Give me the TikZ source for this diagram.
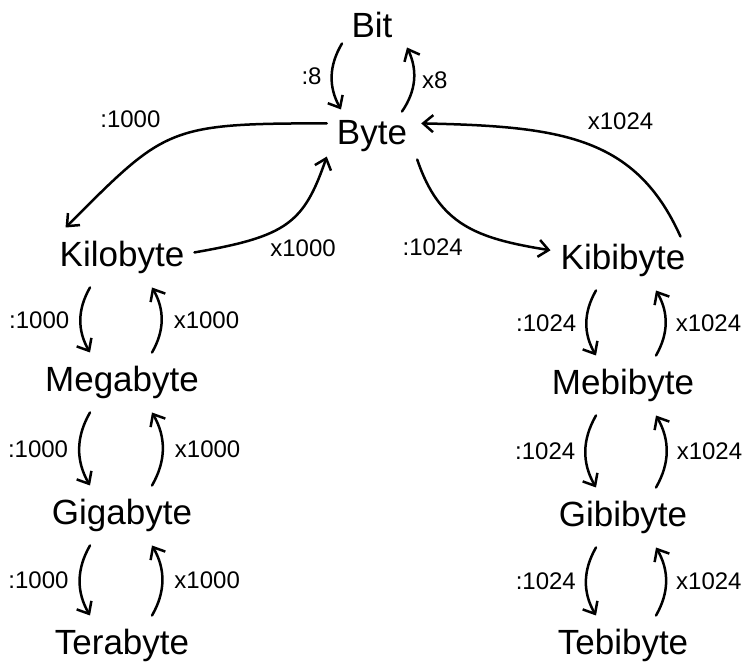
\documentclass[tikz,border=0pt]{standalone}
\usepackage{fontspec}
\setmainfont{Liberation Sans}
\usetikzlibrary{arrows.meta,positioning}

\begin{document}
\begin{tikzpicture}[x=1pt, y=1pt, on grid,
  word/.style={inner xsep=10pt, inner ysep=13pt, text height=26.25pt,
    text depth=7.35pt, font=\fontsize{35}{40}\selectfont},
  lbl/.style={inner sep=2pt, font=\fontsize{24}{28}\selectfont},
  conv/.style={-{Straight Barb[length=10pt,width=17pt]}, line width=2.5pt,
    line cap=round}]
\useasboundingbox (0,0) rectangle (748,666);
\node[word] (bit) at (372,637.5) {Bit};
\node[word, below=107pt of bit] (byte) {Byte};
\node[word, below left=122pt and 250pt of byte] (kb) {Kilobyte};
\node[word, below=125pt of kb] (mb) {Megabyte};
\node[word, below=133pt of mb] (gb) {Gigabyte};
\node[word, below=130pt of gb] (tb) {Terabyte};
\node[word, below right=125pt and 251pt of byte] (kib) {Kibibyte};
\node[word, below=125pt of kib] (mib) {Mebibyte};
\node[word, below=132pt of mib] (gib) {Gibibyte};
\node[word, below=128pt of gib] (tib) {Tebibyte};
% bit <-> byte
\draw[conv] ([xshift=-30pt,yshift=15pt]bit.south) to[bend right=30]
  node[lbl, left=7pt] {:8} ([xshift=-31pt,yshift=-4pt]byte.north);
\draw[conv] ([xshift=30pt,yshift=-6pt]byte.north) to[bend right=30]
  node[lbl, right=5pt] {x8} ([xshift=35pt,yshift=11pt]bit.south);
% byte <-> kilobyte, kibibyte
\draw[conv] (byte.165) .. controls +(-160,0) and +(100,100) .. (kb.152)
  node[lbl, pos=0.5, above left=7pt and 10pt] {:1000};
\draw[conv] (kb.4) .. controls +(92,16) and +(-23,-67) .. (byte.205)
  node[lbl, pos=0.35, below right=2pt and 0pt] {x1000};
\draw[conv] (byte.332) .. controls +(22,-65) and +(-75,12) .. (kib.172)
  node[lbl, pos=0.5, below left=11pt and -2pt] {:1024};
\draw[conv] ([xshift=-15pt,yshift=-6pt]kib.north east)
  .. controls +(-45,100) and +(140,-3) .. ([xshift=4pt]byte.15)
  node[lbl, pos=0.45, above right=16pt and -14pt] {x1024};
% decimal and binary steps
\foreach \a/\b in {kb/mb, mb/gb, gb/tb} {
  \draw[conv] ([xshift=-32pt]\a.south) to[bend right=30]
    node[lbl, left=8pt] {:1000} ([xshift=-32pt]\b.north);
  \draw[conv] ([xshift=30pt]\b.north) to[bend right=30]
    node[lbl, right=9pt] {x1000} ([xshift=30pt]\a.south);
}
\foreach \a/\b in {kib/mib, mib/gib, gib/tib} {
  \draw[conv] ([xshift=-27pt]\a.south) to[bend right=30]
    node[lbl, left=7pt] {:1024} ([xshift=-27pt]\b.north);
  \draw[conv] ([xshift=33pt]\b.north) to[bend right=30]
    node[lbl, right=7pt] {x1024} ([xshift=33pt]\a.south);
}
\end{tikzpicture}
\end{document}
